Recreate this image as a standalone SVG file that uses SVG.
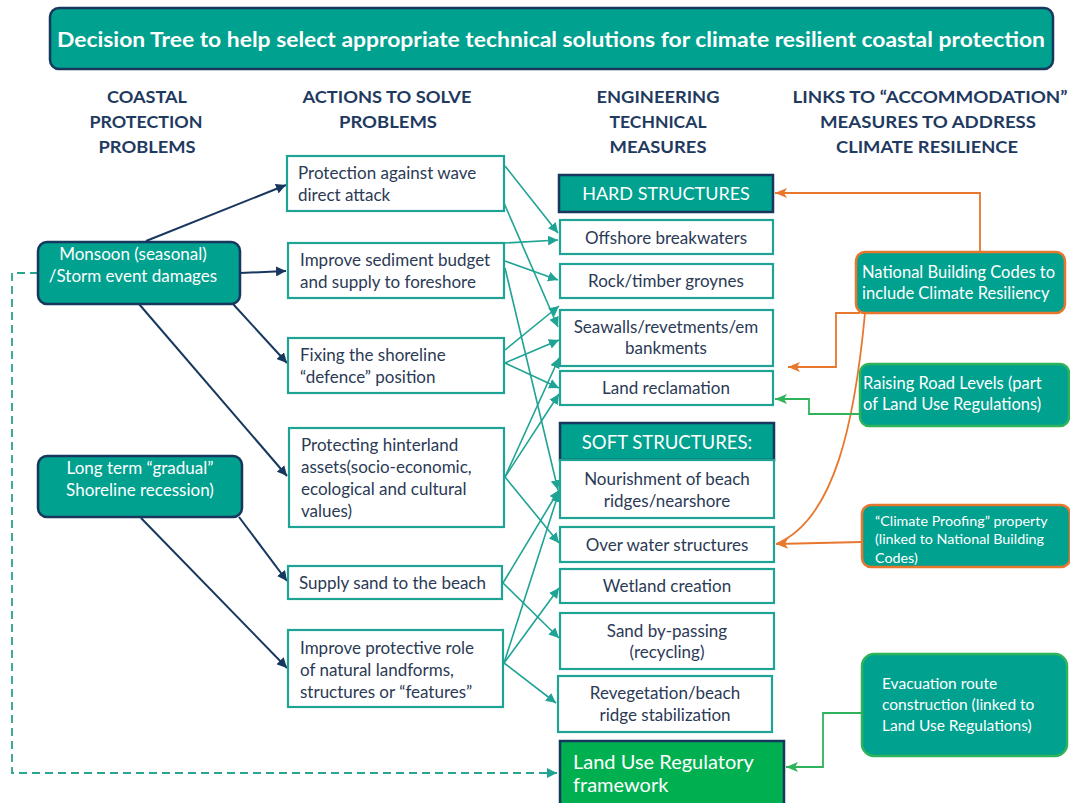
<svg xmlns="http://www.w3.org/2000/svg" width="1070" height="803" viewBox="0 0 1070 803">
<defs>
<style>
.hdr{font-family:Lato,"Liberation Sans",sans-serif;font-weight:bold;font-size:17px;fill:#1f3a5f;text-anchor:middle;}
.wbox{fill:#ffffff;stroke:#1fa394;stroke-width:2.2;}
.tbox{fill:#00a18f;stroke:#17375e;stroke-width:2.5;}
.dt{font-family:Lato,"Open Sans","Liberation Sans",sans-serif;font-size:17px;fill:#2b3a55;}
.wt{font-family:Lato,"Open Sans","Liberation Sans",sans-serif;fill:#ffffff;}
.tl{fill:none;stroke:#1fa394;stroke-width:1.6;marker-end:url(#at);}
.nl{fill:none;stroke:#17375e;stroke-width:2;marker-end:url(#an);}
.ol{fill:none;stroke:#e8772e;stroke-width:1.8;}
.gl{fill:none;stroke:#2fb35a;stroke-width:1.8;marker-end:url(#ag);}
</style>
<marker id="at" markerUnits="userSpaceOnUse" markerWidth="12" markerHeight="10" refX="10" refY="5" orient="auto"><path d="M0,0 L10,5 L0,10 z" fill="#1fa394"/></marker>
<marker id="an" markerUnits="userSpaceOnUse" markerWidth="12" markerHeight="10" refX="10" refY="5" orient="auto"><path d="M0,0 L10,5 L0,10 z" fill="#17375e"/></marker>
<marker id="ao" markerUnits="userSpaceOnUse" markerWidth="14" markerHeight="10" refX="12" refY="5" orient="auto"><path d="M0,0 L12,5 L0,10 L3,5 z" fill="#e8772e"/></marker>
<marker id="ag" markerUnits="userSpaceOnUse" markerWidth="14" markerHeight="10" refX="12" refY="5" orient="auto"><path d="M0,0 L12,5 L0,10 L3,5 z" fill="#2fb35a"/></marker>
</defs>
<rect width="1070" height="803" fill="#ffffff"/>

<g id="title">
<rect x="50" y="8" width="1003" height="61" rx="9" class="tbox"/>
<text x="551" y="47" class="wt" font-size="20" font-weight="bold" text-anchor="middle" textLength="988" lengthAdjust="spacingAndGlyphs">Decision Tree to help select appropriate technical solutions for climate resilient coastal protection</text>
</g>

<g id="headers">
<text class="hdr" x="147" y="103" textLength="80" lengthAdjust="spacingAndGlyphs">COASTAL</text>
<text class="hdr" x="146" y="128" textLength="113" lengthAdjust="spacingAndGlyphs">PROTECTION</text>
<text class="hdr" x="147" y="153" textLength="97" lengthAdjust="spacingAndGlyphs">PROBLEMS</text>
<text class="hdr" x="387" y="103" textLength="169" lengthAdjust="spacingAndGlyphs">ACTIONS TO SOLVE</text>
<text class="hdr" x="388" y="128" textLength="98" lengthAdjust="spacingAndGlyphs">PROBLEMS</text>
<text class="hdr" x="658" y="103" textLength="123" lengthAdjust="spacingAndGlyphs">ENGINEERING</text>
<text class="hdr" x="658" y="128" textLength="97" lengthAdjust="spacingAndGlyphs">TECHNICAL</text>
<text class="hdr" x="658" y="153" textLength="97" lengthAdjust="spacingAndGlyphs">MEASURES</text>
<text class="hdr" x="930" y="103" textLength="275" lengthAdjust="spacingAndGlyphs">LINKS TO “ACCOMMODATION”</text>
<text class="hdr" x="928" y="128" textLength="216" lengthAdjust="spacingAndGlyphs">MEASURES TO ADDRESS</text>
<text class="hdr" x="927" y="153" textLength="182" lengthAdjust="spacingAndGlyphs">CLIMATE RESILIENCE</text>
</g>

<g id="connectors">
<path class="nl" d="M146,241 L286,185"/>
<path class="nl" d="M240,273 L286,271"/>
<path class="nl" d="M233,304 L287,363"/>
<path class="nl" d="M139,304 L287,476"/>
<path class="nl" d="M239,517 L287,581"/>
<path class="nl" d="M141,518 L287,668"/>
<path d="M38,273 L12,273 L12,773 L557,773" fill="none" stroke="#2aa38f" stroke-width="1.8" stroke-dasharray="8,5" marker-end="url(#at)"/>
<path class="tl" d="M505,166 L558,233"/>
<path class="tl" d="M504,203 L558,327"/>
<path class="tl" d="M505,243 L558,240"/>
<path class="tl" d="M505,261 L558,280"/>
<path class="tl" d="M505,268 L558,490"/>
<path class="tl" d="M505,350 L559,306"/>
<path class="tl" d="M505,363 L559,340"/>
<path class="tl" d="M505,363 L559,388"/>
<path class="tl" d="M505,477 L559,358"/>
<path class="tl" d="M505,477 L559,394"/>
<path class="tl" d="M505,477 L559,543"/>
<path class="tl" d="M503,583 L559,490"/>
<path class="tl" d="M503,583 L559,638"/>
<path class="tl" d="M504,663 L559,492"/>
<path class="tl" d="M504,663 L559,588"/>
<path class="tl" d="M504,663 L556,703"/>
<path class="ol" d="M980,252 L980,193 L775,193" marker-end="url(#ao)"/>
<path class="ol" d="M860,313 L836,313 L836,367 L788,367" marker-end="url(#ao)"/>
<path class="ol" d="M865,313 C855,420 835,520 776,544"/>
<path class="ol" d="M862,542 L776,544" marker-end="url(#ao)"/>
<path class="gl" d="M860,414 L809,414 L809,399 L775,399"/>
<path class="gl" d="M862,713 L823,713 L823,767 L786,767"/>
</g>

<g id="monsoon">
<rect x="38" y="242" width="202" height="62" rx="9" class="tbox"/>
<text class="wt" font-size="17" text-anchor="middle"><tspan x="133" y="260">Monsoon (seasonal)</tspan><tspan x="133" y="282">/Storm event damages</tspan></text>
</g>
<g id="longterm">
<rect x="38" y="456" width="204" height="61" rx="9" class="tbox"/>
<text class="wt" font-size="17" text-anchor="middle"><tspan x="140" y="474">Long term “gradual”</tspan><tspan x="140" y="496">Shoreline recession)</tspan></text>
</g>

<g id="act-protection">
<rect x="287" y="156" width="217" height="55" class="wbox"/>
<text class="dt"><tspan x="298" y="179">Protection against wave</tspan><tspan x="298" y="201">direct attack</tspan></text>
</g>
<g id="act-sediment">
<rect x="288" y="243" width="216" height="55" class="wbox"/>
<text class="dt"><tspan x="300" y="266">Improve sediment budget</tspan><tspan x="300" y="288">and supply to foreshore</tspan></text>
</g>
<g id="act-fixing">
<rect x="288" y="338" width="216" height="55" class="wbox"/>
<text class="dt"><tspan x="300" y="361">Fixing the shoreline</tspan><tspan x="300" y="383">“defence” position</tspan></text>
</g>
<g id="act-hinterland">
<rect x="289" y="428" width="215" height="99" class="wbox"/>
<text class="dt"><tspan x="301" y="451">Protecting hinterland</tspan><tspan x="301" y="473">assets(socio-economic,</tspan><tspan x="301" y="495">ecological and cultural</tspan><tspan x="301" y="517">values)</tspan></text>
</g>
<g id="act-supply">
<rect x="288" y="566" width="214" height="33" class="wbox"/>
<text class="dt" x="299" y="589">Supply sand to the beach</text>
</g>
<g id="act-improve">
<rect x="288" y="630" width="215" height="77" class="wbox"/>
<text class="dt"><tspan x="300" y="654">Improve protective role</tspan><tspan x="300" y="676">of natural landforms,</tspan><tspan x="300" y="698">structures or “features”</tspan></text>
</g>

<g id="hard">
<rect x="559" y="175" width="214" height="37" class="tbox"/>
<text class="wt" font-size="18" x="666" y="200" text-anchor="middle">HARD STRUCTURES</text>
</g>
<g id="offshore">
<rect x="560" y="220" width="213" height="34" class="wbox"/>
<text class="dt" x="666" y="244" text-anchor="middle">Offshore breakwaters</text>
</g>
<g id="groynes">
<rect x="560" y="264" width="213" height="34" class="wbox"/>
<text class="dt" x="666" y="287" text-anchor="middle">Rock/timber groynes</text>
</g>
<g id="seawalls">
<rect x="560" y="310" width="213" height="56" class="wbox"/>
<text class="dt" text-anchor="middle"><tspan x="666" y="333">Seawalls/revetments/em</tspan><tspan x="666" y="354">bankments</tspan></text>
</g>
<g id="reclamation">
<rect x="560" y="371" width="213" height="34" class="wbox"/>
<text class="dt" x="666" y="394" text-anchor="middle">Land reclamation</text>
</g>
<g id="soft">
<rect x="560" y="423" width="214" height="37" class="tbox"/>
<text class="wt" font-size="18.5" x="667" y="449" text-anchor="middle">SOFT STRUCTURES:</text>
</g>
<g id="nourishment">
<rect x="560" y="460" width="214" height="58" class="wbox"/>
<text class="dt" text-anchor="middle"><tspan x="667" y="485">Nourishment of beach</tspan><tspan x="667" y="507">ridges/nearshore</tspan></text>
</g>
<g id="overwater">
<rect x="560" y="527" width="214" height="35" class="wbox"/>
<text class="dt" x="667" y="551" text-anchor="middle">Over water structures</text>
</g>
<g id="wetland">
<rect x="560" y="569" width="214" height="34" class="wbox"/>
<text class="dt" x="667" y="592" text-anchor="middle">Wetland creation</text>
</g>
<g id="bypassing">
<rect x="560" y="613" width="214" height="56" class="wbox"/>
<text class="dt" text-anchor="middle"><tspan x="667" y="637">Sand by-passing</tspan><tspan x="667" y="658">(recycling)</tspan></text>
</g>
<g id="revegetation">
<rect x="558" y="676" width="214" height="56" class="wbox"/>
<text class="dt" text-anchor="middle"><tspan x="665" y="699">Revegetation/beach</tspan><tspan x="665" y="721">ridge stabilization</tspan></text>
</g>
<g id="landuse">
<rect x="560" y="741" width="224" height="70" fill="#00b050" stroke="#17375e" stroke-width="2.5"/>
<text class="wt" font-size="20"><tspan x="573" y="769">Land Use Regulatory</tspan><tspan x="573" y="792">framework</tspan></text>
</g>

<g id="nbc">
<rect x="856" y="252" width="209" height="61" rx="9" fill="#00a18f" stroke="#e8772e" stroke-width="2.5"/>
<text class="wt" font-size="16.5"><tspan x="862" y="278">National Building Codes to</tspan><tspan x="862" y="299">include Climate Resiliency</tspan></text>
</g>
<g id="roads">
<rect x="860" y="364" width="209" height="62" rx="9" fill="#00a18f" stroke="#2fb35a" stroke-width="2.5"/>
<text class="wt" font-size="16.5"><tspan x="863" y="389">Raising Road Levels (part</tspan><tspan x="863" y="410">of Land Use Regulations)</tspan></text>
</g>
<g id="proofing">
<rect x="862" y="505" width="208" height="62" rx="9" fill="#00a18f" stroke="#e8772e" stroke-width="2.5"/>
<text class="wt" font-size="14.3"><tspan x="875" y="526">“Climate Proofing” property</tspan><tspan x="875" y="544">(linked to National Building</tspan><tspan x="875" y="563">Codes)</tspan></text>
</g>
<g id="evacuation">
<rect x="862" y="654" width="205" height="102" rx="12" fill="#00a18f" stroke="#2fb35a" stroke-width="2.5"/>
<text class="wt" font-size="15.5"><tspan x="882" y="689">Evacuation route</tspan><tspan x="882" y="710">construction (linked to</tspan><tspan x="882" y="731">Land Use Regulations)</tspan></text>
</g>
</svg>
